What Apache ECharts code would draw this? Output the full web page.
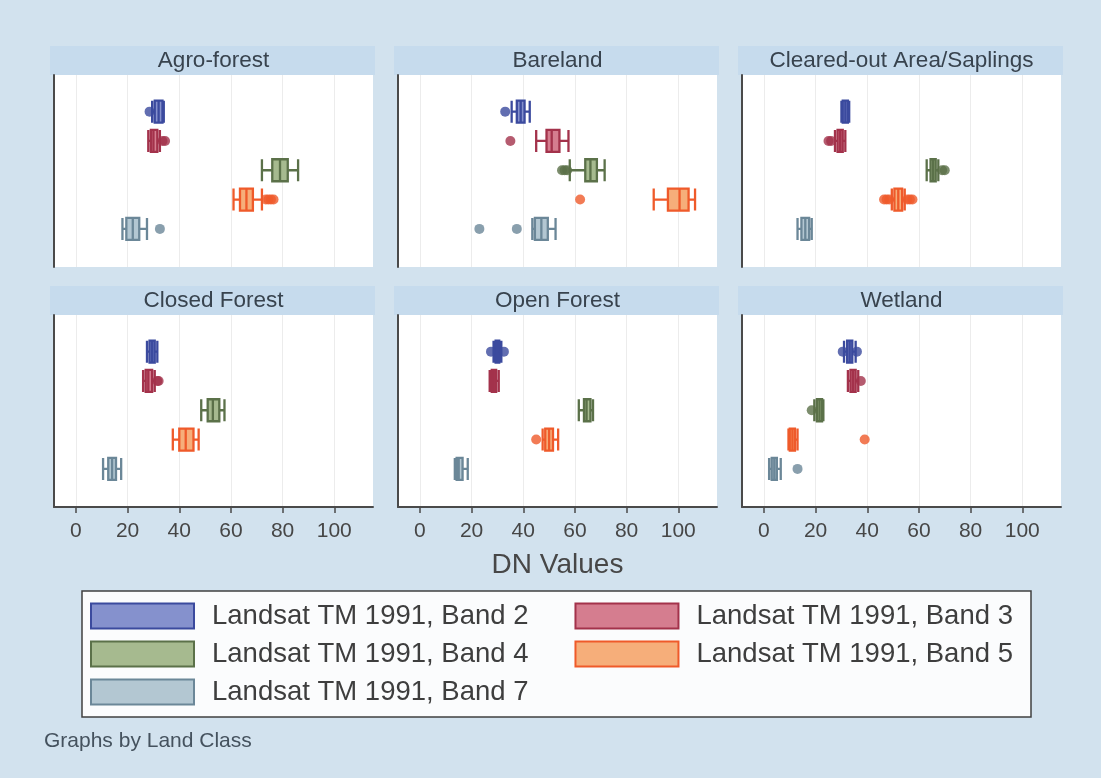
<!DOCTYPE html>
<html>
<head>
<meta charset="utf-8">
<title>DN values by land class</title>
<script src="https://cdn.jsdelivr.net/npm/echarts@6/dist/echarts.min.js"></script>
<style>
  html, body { margin: 0; padding: 0; background: #d2e2ee; }
  #chart { width: 1101px; height: 778px; }
</style>
</head>
<body>
<div id="chart"></div>
<script>
'use strict';

var classes = ['Agro-forest', 'Bareland', 'Cleared-out Area/Saplings', 'Closed Forest', 'Open Forest', 'Wetland'];
var bands = ['Landsat TM 1991, Band 2', 'Landsat TM 1991, Band 3', 'Landsat TM 1991, Band 4',
             'Landsat TM 1991, Band 5', 'Landsat TM 1991, Band 7'];
var xTicks = [0, 20, 40, 60, 80, 100];

// box stats per land class, one row per band: [min, Q1, median, Q3, max]
var agroBox    = [[29.5, 30.5, 32, 33.5, 34], [28, 29, 30, 31.5, 32.5], [72, 76, 79, 82, 86], [61, 63.5, 66, 68.5, 72], [18, 19.5, 22, 24.5, 27.5]];
var bareBox    = [[35.5, 37.5, 39, 40.5, 42.5], [45, 49, 51, 54, 57.5], [58, 64, 66, 68.5, 71.5], [90.5, 96, 100.5, 104, 106.5], [43.5, 44.5, 47, 49.5, 52.5]];
var clearedBox = [[30, 30.5, 31.5, 32.5, 33], [27.5, 28.5, 29.5, 30.5, 31.5], [63, 64.5, 65.5, 66.5, 67.5], [49.5, 50.5, 52, 53.5, 54.5], [13, 14.5, 16, 17.5, 18.5]];
var closedBox  = [[27.5, 28.5, 29.5, 30.5, 31.5], [26, 27, 28, 29.5, 30.5], [48.5, 51, 53, 55.5, 57.5], [37.5, 40, 42.5, 45.5, 47.5], [10.5, 12.5, 14, 15.5, 17.5]];
var openBox    = [[28.5, 29.3, 30, 30.7, 31.5], [27, 27.8, 28.6, 29.5, 30.5], [61.5, 63.5, 64.5, 66, 67], [47.5, 48.5, 50, 51.5, 53.5], [13.5, 14.2, 15, 16.5, 18.5]];
var wetBox     = [[31, 32.2, 33.2, 34.2, 35.5], [32.5, 33.5, 34.5, 35.5, 36.5], [19.5, 20.5, 21.5, 22.5, 23], [9.5, 10, 11, 12, 13], [2, 3, 4, 5, 6.5]];

// outside values per land class, one list per band
var agroOut    = [[28.5], [33.5, 34.5], [], [73.5, 74.5, 75.5, 76.5], [32.5]];
var bareOut    = [[33], [35], [55, 56, 57], [62], [23, 37.5]];
var clearedOut = [[], [25, 26], [69, 70], [46.5, 47.5, 48.5, 55.5, 56.5, 57.5], []];
var closedOut  = [[], [31.5, 32], [], [], []];
var openOut    = [[27.5, 32.5], [], [], [45], []];
var wetOut     = [[30.5, 36], [37.5], [18.5], [39], [13]];

var boxStats = [agroBox, bareBox, clearedBox, closedBox, openBox, wetBox];
var outStats = [agroOut, bareOut, clearedOut, closedOut, openOut, wetOut];

var bandLine = ['#3b4a9e', '#a3324b', '#5b7149', '#ef5a2a', '#6b8798'];
var bandFill = ['#8591cd', '#d57d8f', '#a6ba8f', '#f6ae7a', '#b3c7d2'];

var font = 'Liberation Sans, Arial, sans-serif';
var colLeft = [54, 398, 742];
var rowTop = [75, 315];
var plotW = 319, plotH = 192;

var grids = [], xAxes = [], yAxes = [], series = [], graphics = [];

classes.forEach(function (name, g) {
  var col = g % 3, row = Math.floor(g / 3);
  var left = colLeft[col], top = rowTop[row];
  var bottomRow = row === 1;

  grids.push({left: left, top: top, width: plotW, height: plotH,
    show: true, backgroundColor: '#ffffff', borderWidth: 0});

  xAxes.push({
    gridIndex: g, type: 'value', min: -8.5, max: 115,
    axisLine: {show: bottomRow, onZero: false, lineStyle: {color: '#4a4a4a', width: 2}},
    axisTick: {show: bottomRow, customValues: xTicks, length: 6, lineStyle: {color: '#4a4a4a', width: 1.5}},
    axisLabel: {show: bottomRow, customValues: xTicks, fontSize: 21, color: '#464646', margin: 14, fontFamily: font},
    splitLine: {show: true, lineStyle: {color: '#ececec', width: 1}},
    name: g === 4 ? 'DN Values' : '',
    nameLocation: 'middle', nameGap: 44,
    nameTextStyle: {fontSize: 28, color: '#474747', fontFamily: font}
  });

  // header strip with the class name
  graphics.push({type: 'rect', z: 0, shape: {x: left - 4, y: top - 29, width: plotW + 6, height: 29},
    style: {fill: '#c6dbed'}});
  graphics.push({type: 'text', z: 1, x: left + plotW / 2, y: top - 14,
    style: {text: name, fontSize: 22.5, fill: '#38434e', align: 'center', verticalAlign: 'middle', fontFamily: font}});

  bands.forEach(function (band, b) {
    // one y axis per band so boxplots are not shifted side by side
    yAxes.push({
      gridIndex: g, type: 'value', min: -1.25, max: 5.3, inverse: true, show: b === 0,
      axisLine: {show: true, onZero: false, lineStyle: {color: '#4a4a4a', width: 2}},
      axisTick: {show: false}, axisLabel: {show: false}, splitLine: {show: false}
    });
    var yi = g * 5 + b;
    series.push({
      type: 'boxplot', name: band, xAxisIndex: g, yAxisIndex: yi, layout: 'vertical',
      boxWidth: [22, 22],
      itemStyle: {color: bandFill[b], borderColor: bandLine[b], borderWidth: 2.3},
      emphasis: {disabled: true},
      data: [[b].concat(boxStats[g][b])]
    });
    series.push({
      type: 'scatter', name: band, xAxisIndex: g, yAxisIndex: yi,
      symbolSize: 10, itemStyle: {color: bandLine[b]},
      emphasis: {disabled: true},
      data: outStats[g][b].map(function (v) { return [v, b]; })
    });
  });
});

// legend frame and footnote
graphics.push({type: 'rect', z: 0, shape: {x: 82, y: 591, width: 949, height: 126},
  style: {fill: '#fbfcfd', stroke: '#404040', lineWidth: 1.5}});
graphics.push({type: 'text', z: 1, x: 44, y: 741,
  style: {text: 'Graphs by Land Class', fontSize: 21, fill: '#45525e', verticalAlign: 'middle', fontFamily: font}});

var myChart = echarts.init(document.getElementById('chart'));
var option = {
  animation: false,
  backgroundColor: '#d2e2ee',
  grid: grids,
  xAxis: xAxes,
  yAxis: yAxes,
  legend: {
    left: 90, top: 602, width: 975, padding: 0,
    orient: 'horizontal', icon: 'rect',
    itemWidth: 103, itemHeight: 25, itemGap: 10,
    textStyle: {fontSize: 27.5, color: '#3e3e3e', fontFamily: font, lineHeight: 26, padding: [0, 36, 0, 13]},
    data: bands.map(function (b, i) {
      return {name: b, itemStyle: {color: bandFill[i], borderColor: bandLine[i], borderWidth: 2}};
    })
  },
  graphic: graphics,
  series: series
};
myChart.setOption(option);
</script>
</body>
</html>
